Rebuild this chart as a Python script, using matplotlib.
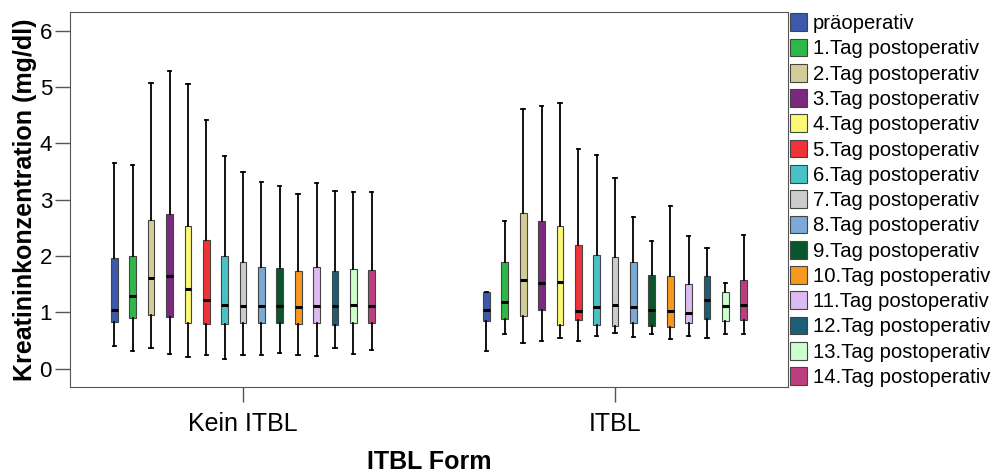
import matplotlib.pyplot as plt
import matplotlib.patches as mpatches

plt.rcParams['font.family'] = ['Liberation Sans', 'DejaVu Sans']

# Data
groups = ['Kein ITBL', 'ITBL']
days = ['präoperativ'] + ['%d.Tag postoperativ' % i for i in range(1, 15)]
colors = ['#3E58AC', '#2EB848', '#D3CE97', '#7C287D', '#FBF873', '#EF3338', '#48C2C5',
          '#CCCCCC', '#7AAAD5', '#0A562C', '#F8981D', '#DDBAF1', '#1A5F76', '#CCFFCC', '#BB3F7F']

# Kein ITBL
kein_low = [0.41, 0.31, 0.36, 0.26, 0.20, 0.24, 0.18, 0.24, 0.24, 0.28, 0.25, 0.23, 0.36, 0.26, 0.33]
kein_q1 = [0.83, 0.90, 0.95, 0.92, 0.82, 0.80, 0.79, 0.81, 0.82, 0.82, 0.79, 0.82, 0.78, 0.81, 0.82]
kein_med = [1.05, 1.29, 1.61, 1.64, 1.41, 1.22, 1.14, 1.11, 1.11, 1.12, 1.09, 1.12, 1.12, 1.14, 1.12]
kein_q3 = [1.96, 2.00, 2.64, 2.75, 2.53, 2.28, 2.00, 1.90, 1.81, 1.79, 1.74, 1.81, 1.74, 1.77, 1.76]
kein_high = [3.65, 3.61, 5.08, 5.28, 5.06, 4.41, 3.78, 3.50, 3.31, 3.25, 3.10, 3.29, 3.16, 3.14, 3.14]

# ITBL
itbl_low = [0.32, 0.61, 0.45, 0.50, 0.54, 0.50, 0.59, 0.63, 0.57, 0.62, 0.52, 0.59, 0.54, 0.62, 0.62]
itbl_q1 = [0.84, 0.88, 0.94, 1.04, 0.78, 0.87, 0.78, 0.76, 0.81, 0.76, 0.74, 0.81, 0.88, 0.84, 0.87]
itbl_med = [1.05, 1.18, 1.57, 1.52, 1.54, 1.02, 1.09, 1.14, 1.09, 1.05, 1.02, 0.99, 1.22, 1.11, 1.14]
itbl_q3 = [1.37, 1.90, 2.76, 2.62, 2.53, 2.19, 2.02, 1.98, 1.89, 1.67, 1.65, 1.51, 1.65, 1.36, 1.58]
itbl_high = [1.37, 2.62, 4.61, 4.67, 4.71, 3.90, 3.80, 3.39, 2.70, 2.27, 2.89, 2.35, 2.14, 1.52, 2.37]

data = [(kein_low, kein_q1, kein_med, kein_q3, kein_high),
        (itbl_low, itbl_q1, itbl_med, itbl_q3, itbl_high)]

fig = plt.figure(figsize=(9.95, 4.72), dpi=100)
ax = fig.add_axes([0.0704, 0.18, 0.7216, 0.795])

step = 0.0494
n = len(days)
for g, (lo, q1, med, q3, hi) in enumerate(data):
    stats = []
    for i in range(n):
        stats.append({'whislo': lo[i], 'q1': q1[i], 'med': med[i], 'q3': q3[i],
                      'whishi': hi[i], 'fliers': []})
    pos = [g + (i - (n - 1) / 2) * step for i in range(n)]
    bp = ax.bxp(stats, positions=pos, widths=0.018, patch_artist=True,
                showfliers=False, capwidths=0.009,
                boxprops=dict(edgecolor='#444444', linewidth=0.8),
                medianprops=dict(color='black', linewidth=2.2),
                whiskerprops=dict(color='black', linewidth=1.3),
                capprops=dict(color='black', linewidth=1.3))
    for patch, c in zip(bp['boxes'], colors):
        patch.set_facecolor(c)

ax.set_xlim(-0.465, 1.465)
ax.set_ylim(-0.325, 6.337)
ax.set_xticks([0, 1])
ax.set_xticklabels(groups)
ax.set_yticks(range(7))
ax.tick_params(axis='y', length=11, width=1, color='#555555', labelsize=16, pad=2)
ax.tick_params(axis='x', length=11, width=1, color='#555555', labelsize=18, pad=7)
for s in ax.spines.values():
    s.set_color('#555555')

ax.set_ylabel('Kreatininkonzentration (mg/dl)', fontsize=18, fontweight='bold', labelpad=2)
ax.set_xlabel('ITBL Form', fontsize=18, fontweight='bold', labelpad=10)

handles = [mpatches.Patch(facecolor=c, edgecolor='#444444', linewidth=0.8) for c in colors]
fig.legend(handles, days, loc='upper left', bbox_to_anchor=(0.792, 0.976),
           frameon=False, fontsize=14.6, handlelength=0.82, handleheight=0.97,
           handletextpad=0.3, labelspacing=0.268, borderaxespad=0, borderpad=0.1)

fig.savefig('out.png', dpi=100)
